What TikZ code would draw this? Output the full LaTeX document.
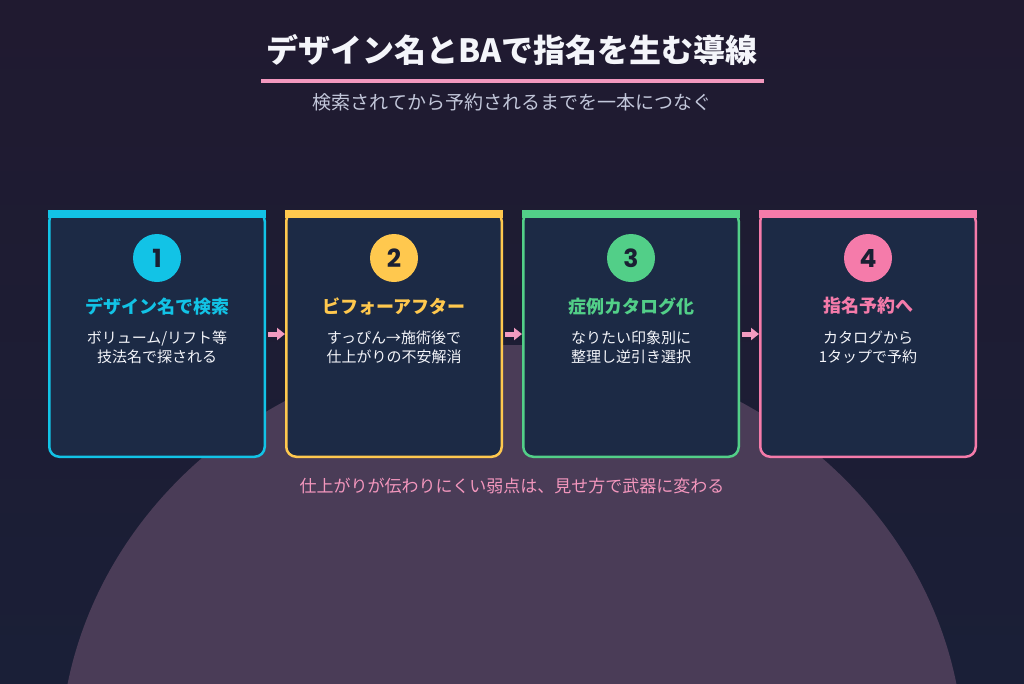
\documentclass[tikz,border=0pt]{standalone}
\usepackage{fontspec}
\setmainfont{Noto Sans CJK JP}
\newfontfamily\numfont{Poppins}
\usetikzlibrary{arrows.meta, positioning, calc}
\definecolor{night}{HTML}{201A30}
\definecolor{deep}{HTML}{1A1F37}
\definecolor{glow}{HTML}{4A3C57}
\definecolor{cardfill}{HTML}{1C2A45}
\definecolor{sky}{HTML}{12C3E6}
\definecolor{amber}{HTML}{FFC84E}
\definecolor{mint}{HTML}{52CF88}
\definecolor{rose}{HTML}{F57BAA}
\definecolor{blush}{HTML}{F29BC0}
\definecolor{mist}{HTML}{C2C7DA}
\definecolor{snow}{HTML}{F4F5FA}
\definecolor{ink}{HTML}{1A2033}

\begin{document}
\begin{tikzpicture}[x=1pt, y=-1pt, node distance=19pt,
    card/.style={draw=#1, line width=2.5pt, rounded corners=10pt, fill=cardfill,
      minimum width=215.5pt, minimum height=245.5pt, inner sep=0pt},
    badge/.style={circle, fill=#1, text=ink, minimum size=48pt, inner sep=0pt,
      font=\numfont\bfseries\fontsize{25}{27}\selectfont},
    head/.style={text=#1, font=\bfseries\fontsize{18}{22}\selectfont},
    body/.style={text=snow, align=center, font=\fontsize{15}{19}\selectfont},
    flow/.style={blush, line width=5pt, shorten <=2pt, -{Triangle[length=8pt, width=12pt]}}]
    \useasboundingbox (0,0) rectangle (1024,683);
    \shade[top color=night, bottom color=deep] (0,0) rectangle (1024,683);
    \fill[glow] (512,760) ellipse [x radius=452, y radius=415];

    % title block
    \node[text=snow, font=\bfseries\fontsize{32}{36}\selectfont] (title) at (512,50) {デザイン名とBAで指名を生む導線};
    \fill[blush!90!rose] (261,79) rectangle (764,83);
    \node[text=mist, font=\fontsize{19}{22}\selectfont] (sub) at (512,102) {検索されてから予約されるまでを一本につなぐ};

    % cards
    \node[card=sky] (s1) at (157,334) {};
    \node[card=amber, right=of s1] (s2) {};
    \node[card=mint, right=of s2] (s3) {};
    \node[card=rose, right=of s3] (s4) {};
    \fill[sky] (s1.north west) rectangle ([yshift=-8pt]s1.north east);
    \fill[amber] (s2.north west) rectangle ([yshift=-8pt]s2.north east);
    \fill[mint] (s3.north west) rectangle ([yshift=-8pt]s3.north east);
    \fill[rose] (s4.north west) rectangle ([yshift=-8pt]s4.north east);

    \node[badge=sky] (b1) at ([yshift=-48pt]s1.north) {1};
    \node[badge=amber] (b2) at ([yshift=-48pt]s2.north) {2};
    \node[badge=mint] (b3) at ([yshift=-48pt]s3.north) {3};
    \node[badge=rose] (b4) at ([yshift=-48pt]s4.north) {4};

    \node[head=sky] (h1) at ([yshift=-96pt]s1.north) {デザイン名で検索};
    \node[head=amber] (h2) at ([yshift=-96pt]s2.north) {ビフォーアフター};
    \node[head=mint] (h3) at ([yshift=-96pt]s3.north) {症例カタログ化};
    \node[head=rose] (h4) at ([yshift=-96pt]s4.north) {指名予約へ};

    \node[body] (d1) at ([yshift=-137.5pt]s1.north) {ボリューム/リフト等\\技法名で探される};
    \node[body] (d2) at ([yshift=-137.5pt]s2.north) {すっぴん→施術後で\\仕上がりの不安解消};
    \node[body] (d3) at ([yshift=-137.5pt]s3.north) {なりたい印象別に\\整理し逆引き選択};
    \node[body] (d4) at ([yshift=-137.5pt]s4.north) {カタログから\\1タップで予約};

    \draw[flow] (s1) -- (s2);
    \draw[flow] (s2) -- (s3);
    \draw[flow] (s3) -- (s4);

    \node[text=blush!85!rose, font=\fontsize{17}{20}\selectfont] (note) at (512,486) {仕上がりが伝わりにくい弱点は、見せ方で武器に変わる};
  \end{tikzpicture}
\end{document}
